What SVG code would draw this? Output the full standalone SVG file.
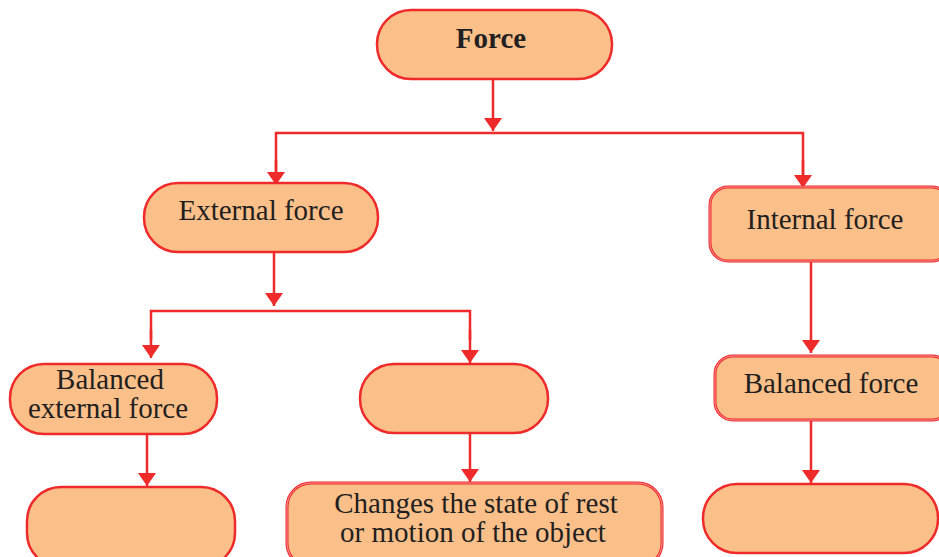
<svg xmlns="http://www.w3.org/2000/svg" width="939" height="557" viewBox="0 0 939 557">
<defs>
<style>
.box{fill:#FBC08A;stroke:#EE2A2A;stroke-width:2.5}
.dbl{fill:#FBC08A;stroke:#EE2A2A;stroke-width:3}
.dbl2{fill:none;stroke:#F7A0A0;stroke-width:0.9}
.t{font-family:"Liberation Serif","Times New Roman",serif;font-size:29px;fill:#231F20;text-anchor:middle}
.b{font-weight:bold;font-size:29px}
.c{fill:none;stroke:#EE2A2A;stroke-width:2.5}
</style>
<marker id="ah" markerUnits="userSpaceOnUse" markerWidth="13" markerHeight="18" refX="13" refY="9" orient="auto" viewBox="0 0 13 18">
<path d="M0,0 L13,9 L0,18 Z" fill="#EE2A2A"/>
</marker>
</defs>
<g id="connectors">
<path class="c" d="M493,79 V131" marker-end="url(#ah)"/>
<path class="c" d="M276,186 V133 H803 V188"/>
<path class="c" d="M276,160 V185" marker-end="url(#ah)"/>
<path class="c" d="M803,160 V188" marker-end="url(#ah)"/>
<path class="c" d="M274,252 V306" marker-end="url(#ah)"/>
<path class="c" d="M151,340 V311 H470 V340"/>
<path class="c" d="M151,330 V358" marker-end="url(#ah)"/>
<path class="c" d="M470,330 V363" marker-end="url(#ah)"/>
<path class="c" d="M811,261 V353" marker-end="url(#ah)"/>
<path class="c" d="M147,434 V486" marker-end="url(#ah)"/>
<path class="c" d="M470,433 V482" marker-end="url(#ah)"/>
<path class="c" d="M811,420 V483" marker-end="url(#ah)"/>
</g>
<g id="force">
<rect class="box" x="377" y="10" width="235" height="69" rx="34"/>
<text class="t b" x="491" y="48">Force</text>
</g>
<g id="external">
<rect class="box" x="144" y="183" width="234" height="69" rx="34"/>
<text class="t" x="261" y="220">External force</text>
</g>
<g id="internal">
<rect class="dbl" x="710" y="187" width="240" height="74" rx="18"/>
<rect class="dbl2" x="710" y="187" width="240" height="74" rx="18"/>
<text class="t" x="825" y="229">Internal force</text>
</g>
<g id="balanced-external">
<rect class="box" x="10" y="364" width="207" height="70" rx="34"/>
<text class="t" x="110" y="389">Balanced</text>
<text class="t" x="108" y="418">external force</text>
</g>
<g id="middle">
<rect class="box" x="360" y="364" width="188" height="69" rx="34"/>
</g>
<g id="balanced">
<rect class="dbl" x="715" y="356" width="235" height="64" rx="18"/>
<rect class="dbl2" x="715" y="356" width="235" height="64" rx="18"/>
<text class="t" x="831" y="393">Balanced force</text>
</g>
<g id="bottom-left">
<rect class="box" x="27" y="487" width="208" height="80" rx="34"/>
</g>
<g id="changes">
<rect class="dbl" x="287" y="483" width="375" height="84" rx="24"/>
<rect class="dbl2" x="287" y="483" width="375" height="84" rx="24"/>
<text class="t" x="476" y="513">Changes the state of rest</text>
<text class="t" x="473" y="542">or motion of the object</text>
</g>
<g id="bottom-right">
<rect class="box" x="703" y="484" width="235" height="69" rx="34"/>
</g>
</svg>
